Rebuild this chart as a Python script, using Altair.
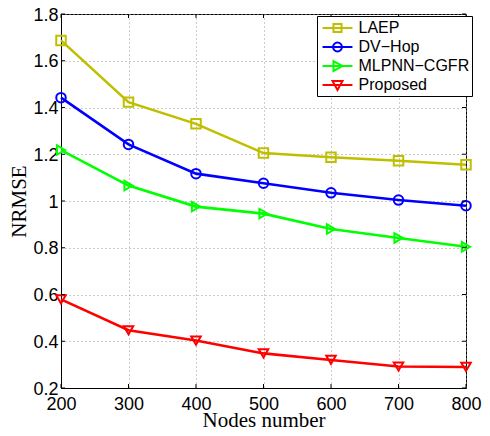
import altair as alt
import pandas as pd

nodes = [200, 300, 400, 500, 600, 700, 800]
series_names = ["LAEP", "DV\u2212Hop", "MLPNN\u2212CGFR", "Proposed"]
laep = [1.687, 1.423, 1.330, 1.205, 1.187, 1.172, 1.155]
dvhop = [1.442, 1.242, 1.117, 1.076, 1.035, 1.004, 0.980]
mlpnn = [1.218, 1.066, 0.976, 0.946, 0.880, 0.842, 0.804]
proposed = [0.579, 0.447, 0.403, 0.348, 0.320, 0.292, 0.290]
colors = ["#bfbf00", "#0000ff", "#00ff00", "#ff0000"]
shapes = ["square", "circle", "triangle-right", "triangle-down"]
y_ticks = [0.2, 0.4, 0.6, 0.8, 1.0, 1.2, 1.4, 1.6, 1.8]

W, H = 405, 374

rows = []
for name, vals in zip(series_names, [laep, dvhop, mlpnn, proposed]):
    for n, v in zip(nodes, vals):
        rows.append({"nodes": n, "nrmse": v, "series": name})
df = pd.DataFrame(rows)
xt = pd.DataFrame({"nodes": nodes})
yt = pd.DataFrame({"nrmse": y_ticks})

# legend symbols: a line with the marker on it
line_part = "M-1.71,0H1.71"
legend_paths = [
    line_part + "M-0.46,-0.46H0.46V0.46H-0.46Z",
    line_part + "M-0.51,0A0.51,0.51,0,1,0,0.51,0A0.51,0.51,0,1,0,-0.51,0",
    line_part + "M-0.46,-0.57L0.57,0L-0.46,0.57Z",
    line_part + "M-0.57,-0.46L0.57,-0.46L0,0.57Z",
]

x_scale = alt.Scale(domain=[200, 800], nice=False)
y_scale = alt.Scale(domain=[0.2, 1.8], nice=False)
x_enc = alt.X(
    "nodes:Q", scale=x_scale,
    axis=alt.Axis(values=nodes, title="Nodes number", labelFlush=False,
                  labelPadding=7, titlePadding=-4),
)
y_enc = alt.Y(
    "nrmse:Q", scale=y_scale,
    axis=alt.Axis(values=y_ticks, title="NRMSE", format="~g", labelFlush=False,
                  labelPadding=3, titlePadding=3, labelOffset=1),
)
color_scale = alt.Scale(domain=series_names, range=colors)

lines = alt.Chart(df).mark_line(strokeWidth=2.6).encode(
    x=x_enc, y=y_enc,
    color=alt.Color("series:N", scale=color_scale, legend=None),
)

points = alt.Chart(df).mark_point(filled=False, strokeWidth=2, size=90, opacity=1).encode(
    x=x_enc, y=y_enc,
    color=alt.Color("series:N", scale=color_scale, legend=None),
    shape=alt.Shape("series:N", scale=alt.Scale(domain=series_names, range=shapes),
                    legend=None),
)

legend_props = dict(
    title=None, orient="none", legendX=256, legendY=2,
    strokeColor="black", fillColor="white", padding=2,
    rowPadding=0, symbolSize=306, symbolOffset=8.5,
    labelOffset=11, labelFontSize=16, labelFont="Liberation Sans",
    labelColor="black", symbolStrokeWidth=2, symbolOpacity=1,
    symbolFillColor="transparent",
)

legend_layer = alt.Chart(df).mark_point(filled=False, strokeWidth=2, opacity=0).encode(
    x=x_enc, y=y_enc,
    color=alt.Color("series:N", scale=color_scale, sort=series_names,
                    legend=alt.Legend(**legend_props)),
    shape=alt.Shape("series:N", scale=alt.Scale(domain=series_names, range=legend_paths),
                    sort=series_names, legend=alt.Legend(**legend_props)),
)

# small inward ticks on all four sides (MATLAB box style)
tick_len = 4
top_ticks = alt.Chart(xt).mark_rule(color="black", strokeWidth=1).encode(
    x=alt.X("nodes:Q", scale=x_scale), y=alt.value(0), y2=alt.value(tick_len))
bottom_ticks = alt.Chart(xt).mark_rule(color="black", strokeWidth=1).encode(
    x=alt.X("nodes:Q", scale=x_scale), y=alt.value(H - tick_len), y2=alt.value(H))
left_ticks = alt.Chart(yt).mark_rule(color="black", strokeWidth=1).encode(
    y=alt.Y("nrmse:Q", scale=y_scale), x=alt.value(0), x2=alt.value(tick_len))
right_ticks = alt.Chart(yt).mark_rule(color="black", strokeWidth=1).encode(
    y=alt.Y("nrmse:Q", scale=y_scale), x=alt.value(W - tick_len), x2=alt.value(W))

chart = alt.layer(
    lines, points, top_ticks, bottom_ticks, left_ticks, right_ticks, legend_layer
).resolve_scale(
    color="independent", shape="independent"
).properties(
    width=W, height=H,
    autosize=alt.AutoSizeParams(type="none"),
    padding={"left": 53, "top": 6, "right": 16, "bottom": 40},
).configure_view(stroke="black", strokeWidth=1).configure_axis(
    domainColor="black", domainWidth=1, ticks=False,
    labelFont="Liberation Sans", labelFontSize=18, labelColor="black",
    titleFont="Liberation Serif", titleFontSize=21, titleFontWeight="normal", titleColor="black",
    grid=True, gridColor="#999999", gridDash=[1, 3], gridWidth=1,
)

chart.save("out.html", embed_options={"renderer": "svg", "actions": False})
